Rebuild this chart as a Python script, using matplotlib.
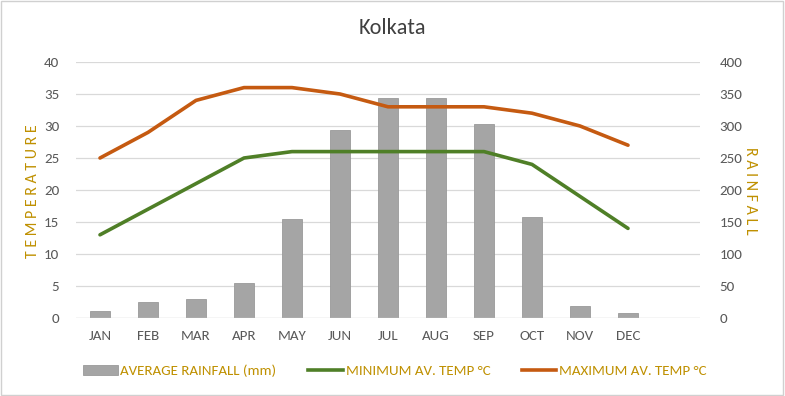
import numpy as np
import matplotlib.pyplot as plt
from matplotlib.patches import Patch
from matplotlib.lines import Line2D

# ---- data ----
months = ["JAN", "FEB", "MAR", "APR", "MAY", "JUN", "JUL", "AUG", "SEP", "OCT", "NOV", "DEC"]
rainfall = [11, 25, 30, 54, 154, 294, 344, 344, 303, 158, 19, 8]
min_temp = [13, 17, 21, 25, 26, 26, 26, 26, 26, 24, 19, 14]
max_temp = [25, 29, 34, 36, 36, 35, 33, 33, 33, 32, 30, 27]

plt.rcParams["font.family"] = ["Carlito", "DejaVu Sans"]

tick_col = "#595959"
gold = "#BF9000"
grid_col = "#D9D9D9"
bar_col = "#A5A5A5"
green = "#4F7F27"
orange = "#C55A11"

fig = plt.figure(figsize=(7.85, 3.96), dpi=100)
ax = fig.add_axes([76 / 785, 1 - 318 / 396, 624 / 785, 256 / 396])
ax2 = ax.twinx()

x = np.arange(len(months))

# bars on the rainfall axis, lines on temperature axis
ax2.bar(x, rainfall, width=0.4, color=bar_col, edgecolor="#9A9A9A", linewidth=0.6, zorder=2)
ax.set_zorder(ax2.get_zorder() + 1)
ax.patch.set_visible(False)
ax.plot(x, min_temp, color=green, linewidth=2.6, solid_capstyle="round", zorder=3)
ax.plot(x, max_temp, color=orange, linewidth=2.6, solid_capstyle="round", zorder=3)

# 13 category slots, last one empty
ax.set_xlim(-0.5, 12.5)
ax.set_ylim(0, 40)
ax2.set_ylim(0, 400)
ax.set_yticks(np.arange(0, 41, 5))
ax2.set_yticks(np.arange(0, 401, 50))
ax.set_xticks(x)
ax.set_xticklabels(months)

for a in (ax, ax2):
    for s in a.spines.values():
        s.set_visible(False)
    a.tick_params(length=0, colors=tick_col, labelsize=10.8)
ax.tick_params(axis="y", pad=12)
ax2.tick_params(axis="y", pad=14)
ax.tick_params(axis="x", pad=9)

ax2.yaxis.grid(True, color=grid_col, linewidth=0.9, zorder=0)
ax2.set_axisbelow(True)
ax.axhline(0, color=grid_col, linewidth=0.9)

fig.text(33 / 785, 1 - 191 / 396, " ".join("TEMPERATURE"), rotation=90, color=gold,
         fontsize=11.5, ha="center", va="center")
fig.text(750 / 785, 1 - 191 / 396, " ".join("RAINFALL"), rotation=270, color=gold,
         fontsize=11.5, ha="center", va="center")

fig.text(392 / 785, 1 - 28 / 396, "Kolkata", color="#404040", fontsize=16, ha="center", va="center")

handles = [
    Patch(facecolor=bar_col, edgecolor="#9A9A9A", linewidth=0.6),
    Line2D([], [], color=green, linewidth=2.6),
    Line2D([], [], color=orange, linewidth=2.6),
]
labels = ["AVERAGE RAINFALL (mm)", "MINIMUM AV. TEMP °C", "MAXIMUM AV. TEMP °C"]
leg = fig.legend(handles, labels, loc="center", bbox_to_anchor=(395 / 785, 1 - 371 / 396),
                 ncol=3, frameon=False, handlelength=2.3, handletextpad=0.2,
                 columnspacing=2.1, fontsize=10.8)
for t in leg.get_texts():
    t.set_color(gold)

# chart border
fig.patches.append(plt.Rectangle((0.001, 0.002), 0.997, 0.995, transform=fig.transFigure,
                                 fill=False, edgecolor="#D0D0D0", linewidth=1))

fig.savefig("out.png", dpi=100)
